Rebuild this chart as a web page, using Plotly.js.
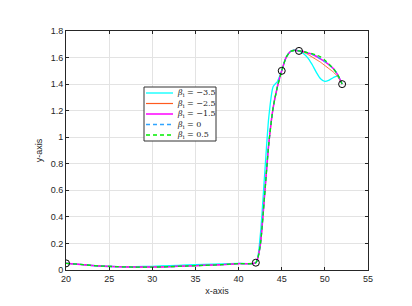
<!DOCTYPE html>
<html>
<head>
<meta charset="utf-8">
<script src="https://cdn.plot.ly/plotly-3.0.1.min.js"></script>
<style>html,body{margin:0;padding:0;background:#fff;}#chart{width:412px;height:306px;}</style>
</head>
<body>
<div id="chart"></div>
<script>
const xs = [20, 22, 24, 26, 28, 30, 32, 34, 36, 38, 40, 42, 42.5, 43, 43.5, 44, 44.5, 45, 45.5, 46, 46.5, 47, 47.5, 48, 48.5, 49, 49.5, 50, 50.5, 51, 51.5, 52];
const yCyan = [0.05, 0.04, 0.03, 0.026, 0.025, 0.028, 0.033, 0.038, 0.042, 0.046, 0.05, 0.055, 0.25, 0.7, 1.15, 1.38, 1.42, 1.5, 1.6, 1.645, 1.655, 1.65, 1.63, 1.6, 1.55, 1.49, 1.44, 1.42, 1.43, 1.45, 1.46, 1.40];
const yOrange = [0.05, 0.04, 0.03, 0.025, 0.022, 0.022, 0.025, 0.03, 0.035, 0.04, 0.048, 0.055, 0.18, 0.55, 0.95, 1.22, 1.38, 1.5, 1.6, 1.645, 1.655, 1.65, 1.64, 1.625, 1.605, 1.585, 1.565, 1.54, 1.515, 1.49, 1.455, 1.40];
const yMagenta = [0.05, 0.04, 0.03, 0.025, 0.022, 0.022, 0.025, 0.03, 0.035, 0.04, 0.048, 0.055, 0.18, 0.55, 0.95, 1.22, 1.38, 1.5, 1.6, 1.645, 1.655, 1.65, 1.645, 1.635, 1.625, 1.61, 1.59, 1.57, 1.545, 1.515, 1.47, 1.40];
const yBlue = [0.05, 0.04, 0.03, 0.025, 0.022, 0.022, 0.025, 0.03, 0.035, 0.04, 0.048, 0.055, 0.18, 0.55, 0.95, 1.22, 1.38, 1.5, 1.6, 1.645, 1.655, 1.65, 1.645, 1.635, 1.625, 1.61, 1.59, 1.57, 1.545, 1.515, 1.47, 1.40];
const yGreen = [0.05, 0.04, 0.03, 0.025, 0.022, 0.022, 0.025, 0.03, 0.035, 0.04, 0.048, 0.055, 0.18, 0.55, 0.95, 1.22, 1.38, 1.5, 1.6, 1.645, 1.655, 1.65, 1.645, 1.638, 1.63, 1.62, 1.605, 1.58, 1.55, 1.515, 1.47, 1.40];
const markX = [20, 42, 45, 47, 52];
const markY = [0.05, 0.055, 1.5, 1.65, 1.4];
const names = ["<i>β</i><sub>i</sub> = −3.5", "<i>β</i><sub>i</sub> = −2.5", "<i>β</i><sub>i</sub> = −1.5", "<i>β</i><sub>i</sub> = 0", "<i>β</i><sub>i</sub> = 0.5"];
const xTicks = [20, 25, 30, 35, 40, 45, 50, 55];
const yTicks = [0, 0.2, 0.4, 0.6, 0.8, 1, 1.2, 1.4, 1.6, 1.8];

const styles = [
  {color: '#00ffff', width: 1.3},
  {color: '#ff5a1f', width: 0.9},
  {color: '#ff00ff', width: 1.5},
  {color: '#2fa4ff', width: 1.3, dash: '4px,3px'},
  {color: '#00ee00', width: 1.3, dash: '4px,3px'}
];
const series = [yCyan, yOrange, yMagenta, yBlue, yGreen];
const sp = {shape: 'spline', smoothing: 0.6};
const traces = series.map((ys, i) => ({x: xs, y: ys, name: names[i], mode: 'lines', showlegend: false,
  line: Object.assign({}, styles[i], sp)}));
traces.push({x: markX, y: markY, mode: 'markers', showlegend: false,
  marker: {symbol: 'circle-open', size: 7, color: '#000', line: {width: 1}}});

// plot area geometry (pixels)
const W = 412, H = 306, ML = 66, MR = 44, MT = 31, MB = 36;
const PW = W - ML - MR, PH = H - MT - MB;
const px = p => (p - ML) / PW;
const py = p => (H - MB - p) / PH;

// custom legend (compact, MATLAB-like)
const shapes = [{type: 'rect', xref: 'paper', yref: 'paper', x0: px(144), x1: px(216), y0: py(141), y1: py(87),
  line: {color: '#333', width: 1}, fillcolor: '#fff', layer: 'above'}];
const annotations = [];
const rowY = [93, 103.5, 114, 124.5, 135];
names.forEach((n, i) => {
  shapes.push({type: 'line', xref: 'paper', yref: 'paper', x0: px(146), x1: px(173), y0: py(rowY[i]), y1: py(rowY[i]),
    line: Object.assign({}, styles[i], {width: Math.max(styles[i].width, 1.2)}), layer: 'above'});
  annotations.push({xref: 'paper', yref: 'paper', x: px(175), y: py(rowY[i]), xanchor: 'left', yanchor: 'middle',
    text: n, showarrow: false, font: {family: 'DejaVu Serif, Liberation Serif, serif', size: 8, color: '#222'}});
});

const axisCommon = {
  showgrid: true, gridcolor: '#e3e3e3', gridwidth: 1,
  zeroline: false, showline: true, linecolor: '#262626', linewidth: 1,
  mirror: 'ticks', ticks: 'inside', ticklen: 3, tickcolor: '#262626',
  tickfont: {family: 'Liberation Sans, Arial, sans-serif', size: 9, color: '#262626'}
};
const layout = {
  width: W, height: H,
  margin: {l: ML, r: MR, t: MT, b: MB, pad: 0},
  paper_bgcolor: '#fff', plot_bgcolor: '#fff',
  showlegend: false,
  shapes: shapes, annotations: annotations,
  xaxis: Object.assign({}, axisCommon, {range: [20, 55], tickvals: xTicks, ticktext: xTicks.map(String),
    title: {text: 'x-axis', font: {family: 'Liberation Sans, Arial, sans-serif', size: 9, color: '#262626'}, standoff: 4}}),
  yaxis: Object.assign({}, axisCommon, {range: [0, 1.8], tickvals: yTicks, ticktext: yTicks.map(String),
    title: {text: 'y-axis', font: {family: 'Liberation Sans, Arial, sans-serif', size: 9, color: '#262626'}, standoff: 6}})
};
Plotly.newPlot('chart', traces, layout, {displayModeBar: false, staticPlot: true});
</script>
</body>
</html>
